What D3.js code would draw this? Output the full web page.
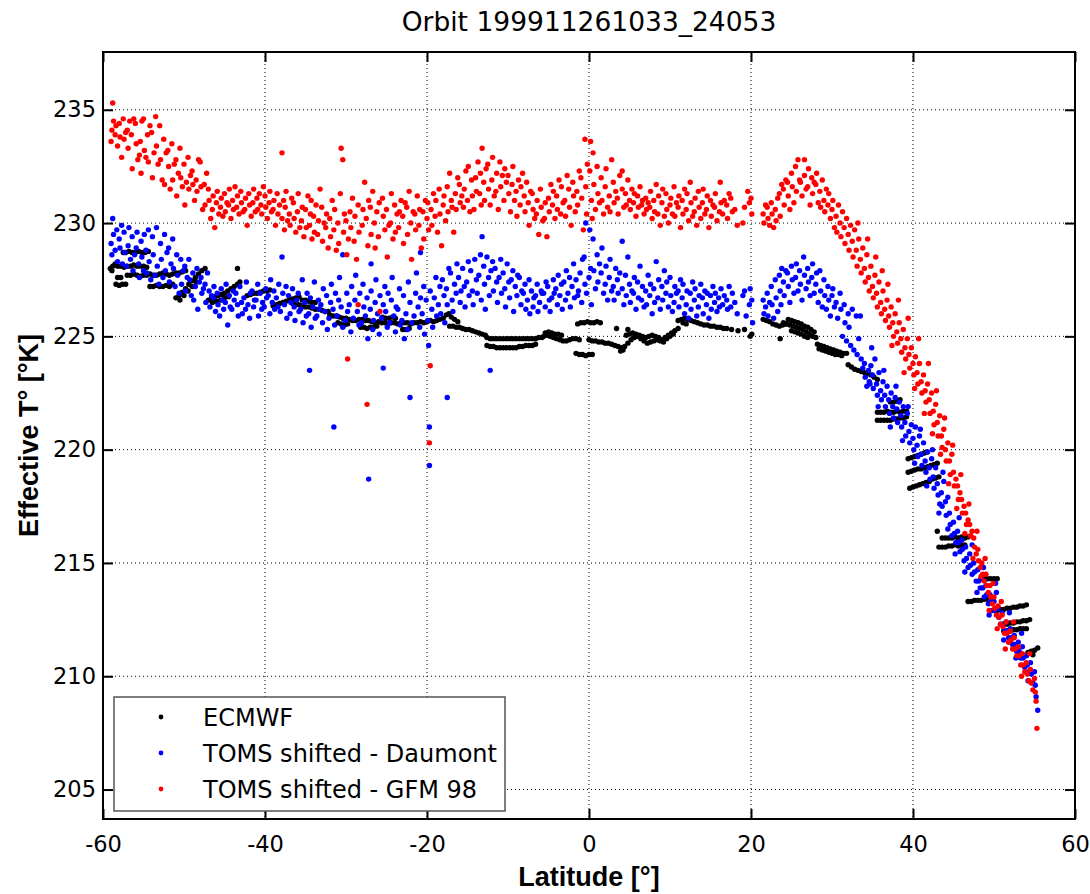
<!DOCTYPE html>
<html>
<head>
<meta charset="utf-8">
<script src="https://cdnjs.cloudflare.com/ajax/libs/d3/7.8.5/d3.min.js"></script>
<style>
    body { margin: 0; background: #fff; }
    svg { display: block; }
</style>
</head>
<body>
<svg id="chart" width="1090" height="894"></svg>
<script>
var title = 'Orbit 199911261033_24053'
var xLabel = 'Latitude [°]'
var yLabel = 'Effective T° [°K]'
var xTicks = [-60, -40, -20, 0, 20, 40, 60]
var yTicks = [205, 210, 215, 220, 225, 230, 235]
var seriesNames = ['ECMWF', 'TOMS shifted - Daumont', 'TOMS shifted - GFM 98']
var seriesColors = ['#000000', '#0000ff', '#ff0000']

// ECMWF: [latitude, T]
var ecmwf = [
    [-57.5,228.7],[-57.2,228.7],[-56.8,228.75],[-56.4,228.7],[-56.0,228.7],[-55.6,228.75],[-55.2,228.7],[-54.8,228.7],[-54.4,228.75],
    [-59.1,228.0],[-58.9,227.9],[-58.8,228.1],[-58.5,228.2],[-58.2,228.1],[-57.8,228.1],[-57.4,228.05],[-57.0,228.1],[-56.6,228.1],[-56.2,228.15],[-55.8,228.1],[-55.4,228.1],[-55.0,228.1],[-54.6,228.05],
    [-57.0,227.7],[-56.6,227.7],[-56.2,227.75],[-55.8,227.7],[-55.4,227.65],[-55.0,227.7],[-54.6,227.7],[-54.2,227.75],[-53.8,227.7],[-53.4,227.7],[-53.0,227.75],[-52.6,227.8],[-52.2,227.75],[-51.8,227.7],[-51.4,227.75],[-51.0,227.8],[-50.6,227.8],[-50.2,227.85],[-49.8,227.9],
    [-58.4,227.3],[-58.0,227.25],[-57.6,227.3],[-57.2,227.3],[-58.2,227.6],[-57.8,227.6],
    [-54.2,227.2],[-53.8,227.2],[-53.4,227.25],[-53.0,227.2],[-52.6,227.2],[-52.2,227.25],[-51.8,227.2],[-51.4,227.3],
    [-51.0,226.7],[-50.6,226.8],[-50.2,226.95],[-49.8,227.1],[-49.4,227.3],[-49.0,227.45],[-48.6,227.6],[-48.2,227.75],[-47.8,227.9],[-47.4,228.0],
    [-50.5,226.6],[-50.0,226.8],[-49.5,227.0],[-49.0,227.2],[-48.5,227.4],
    [-47.0,226.6],[-46.6,226.7],[-46.2,226.75],[-45.8,226.8],[-45.4,226.85],[-45.0,226.9],[-44.6,227.0],[-44.2,227.1],[-43.8,227.2],[-43.4,227.3],[-43.1,227.4],
    [-46.5,226.5],[-46.0,226.55],[-45.5,226.6],[-45.0,226.7],[-44.5,226.75],[-43.4,228.0],
    [-42.2,226.8],[-41.8,226.85],[-41.4,226.9],[-41.0,226.9],[-40.6,226.95],[-40.2,227.0],[-39.8,227.0],[-39.4,227.05],
    [-39.0,226.35],[-38.6,226.4],[-38.2,226.45],[-37.8,226.5],[-37.4,226.55],[-37.0,226.6],[-36.6,226.65],[-36.2,226.7],[-35.8,226.75],
    [-36.6,226.45],[-36.2,226.4],[-35.8,226.4],[-35.4,226.35],[-35.0,226.3],[-34.6,226.3],[-34.2,226.25],[-33.8,226.2],[-33.4,226.2],[-33.0,226.15],[-32.6,226.1],[-32.2,226.1],
    [-35.4,226.6],[-35.0,226.6],[-34.6,226.55],[-34.2,226.5],[-33.8,226.5],
    [-32.0,225.95],[-31.6,225.9],[-31.2,225.9],[-30.8,225.85],[-30.4,225.8],[-30.0,225.8],[-29.6,225.75],[-29.2,225.7],[-28.8,225.7],[-28.4,225.75],
    [-31.0,225.6],[-30.6,225.55],[-30.2,225.5],[-29.8,225.55],
    [-28.2,225.4],[-27.8,225.4],[-27.4,225.35],[-27.0,225.4],[-26.6,225.4],[-26.2,225.45],
    [-28.0,225.75],[-27.6,225.7],[-27.2,225.7],[-26.8,225.65],[-26.4,225.6],[-26.0,225.65],[-25.6,225.6],[-25.2,225.6],[-24.8,225.55],[-24.4,225.6],[-24.0,225.6],[-23.6,225.55],[-23.2,225.6],
    [-25.5,225.85],[-25.1,225.8],[-24.7,225.8],[-24.3,225.85],[-23.9,225.8],
    [-22.8,225.6],[-22.4,225.6],[-22.0,225.55],[-21.6,225.6],[-21.2,225.6],[-20.8,225.65],[-20.4,225.6],
    [-23.0,225.3],[-22.6,225.3],[-22.2,225.35],
    [-20.0,225.65],[-19.6,225.7],[-19.2,225.65],[-18.8,225.7],[-18.4,225.75],[-18.0,225.8],[-17.6,225.95],[-17.3,226.0],[-17.0,225.85],[-16.6,225.75],[-16.2,225.65],
    [-17.2,225.45],[-16.8,225.45],[-16.4,225.4],[-16.0,225.4],[-15.6,225.35],[-15.2,225.3],[-14.8,225.3],[-14.4,225.25],[-14.0,225.2],[-13.6,225.15],[-13.2,225.1],[-12.8,225.05],
    [-12.6,224.95],[-12.2,224.9],[-11.8,224.9],[-11.4,224.9],[-11.0,224.9],[-10.6,224.9],[-10.2,224.9],[-9.8,224.9],[-9.4,224.9],[-9.0,224.9],[-8.6,224.9],[-8.2,224.9],[-7.8,224.9],[-7.4,224.9],[-7.0,224.9],[-6.6,224.9],[-6.2,224.95],[-5.8,224.95],
    [-12.6,224.6],[-12.2,224.55],[-11.8,224.55],[-11.4,224.5],[-11.0,224.5],[-10.6,224.5],[-10.2,224.5],[-9.8,224.5],[-9.4,224.5],[-9.0,224.5],[-8.6,224.55],[-8.2,224.55],[-7.8,224.6],[-7.4,224.6],[-7.0,224.6],[-6.6,224.65],
    [-5.6,225.0],[-5.2,225.05],[-4.8,225.0],[-4.4,224.95],[-4.0,224.9],[-3.6,224.85],[-3.2,224.8],[-2.8,224.8],[-2.4,224.85],[-2.0,224.9],[-1.6,224.9],[-1.2,224.85],
    [-5.4,225.15],[-5.0,225.2],[-4.6,225.15],[-4.2,225.1],[-3.8,225.1],[-3.4,225.05],
    [-1.4,225.55],[-1.0,225.6],[-0.6,225.6],[-0.2,225.65],[0.2,225.6],[0.6,225.6],[1.0,225.65],[1.4,225.6],[3.4,225.35],[4.8,225.3],
    [-1.6,224.25],[-1.2,224.2],[-0.8,224.2],[-0.4,224.15],[0.0,224.2],[0.4,224.2],
    [0.0,224.85],[0.4,224.8],[0.8,224.8],[1.2,224.75],[1.6,224.75],[2.0,224.7],[2.4,224.7],[2.8,224.65],[3.2,224.6],[3.6,224.55],[4.0,224.5],[4.4,224.55],[4.8,224.7],[5.2,224.85],[5.6,224.95],[6.0,225.0],[6.4,224.9],[6.8,224.8],[7.2,224.7],[7.6,224.75],[8.0,224.8],[8.4,224.85],[8.8,224.8],
    [4.6,225.05],[5.0,225.1],[5.4,225.15],[5.8,225.1],[6.2,225.05],[6.6,225.0],[7.0,224.95],[7.4,225.0],[7.8,225.05],[8.2,225.0],[8.6,224.95],[3.9,224.35],[4.2,224.4],
    [9.0,224.85],[9.4,224.95],[9.8,225.05],[10.2,225.15],[10.6,225.25],[11.0,225.35],[9.2,224.75],[9.6,224.9],[10.0,225.0],[10.4,225.1],
    [11.0,225.7],[11.4,225.75],[11.8,225.8],[12.2,225.75],[12.6,225.7],[13.0,225.65],[13.4,225.6],[11.6,225.6],[12.0,225.55],
    [13.8,225.55],[14.2,225.5],[14.6,225.5],[15.0,225.45],[15.4,225.45],[15.8,225.4],[16.2,225.4],[16.6,225.35],[17.0,225.35],
    [17.6,225.3],[18.4,225.25],[19.2,225.3],[19.9,225.0],[20.1,225.1],
    [21.5,225.75],[21.9,225.7],[22.3,225.65],[22.7,225.55],[23.1,225.5],[23.5,225.45],[23.9,225.5],[24.3,225.55],[23.6,224.9],
    [24.0,225.6],[24.4,225.55],[24.8,225.5],[25.2,225.45],[25.6,225.4],[26.0,225.35],[26.4,225.3],[26.8,225.2],[27.2,225.1],[27.6,225.0],[28.0,224.95],
    [24.6,225.75],[25.0,225.7],[25.4,225.65],[25.8,225.6],[26.2,225.55],[26.6,225.45],[27.0,225.4],[27.4,225.3],[27.8,225.2],
    [25.0,225.25],[25.4,225.2],[25.8,225.15],[26.2,225.1],[26.6,225.0],[27.0,224.95],
    [28.2,224.65],[28.6,224.6],[29.0,224.55],[29.4,224.5],[29.8,224.45],[30.2,224.4],[30.6,224.35],[31.0,224.3],[31.4,224.25],[31.8,224.25],
    [28.4,224.45],[28.8,224.4],[29.2,224.35],[29.6,224.3],[30.0,224.25],[30.4,224.2],[30.8,224.2],[31.2,224.15],
    [32.0,223.75],[32.4,223.65],[32.8,223.55],[33.2,223.5],[33.6,223.45],[34.0,223.4],[34.4,223.35],[34.8,223.3],[35.2,223.2],[35.6,223.1],
    [35.6,221.65],[36.0,221.65],[36.4,221.65],[36.8,221.7],[37.2,221.65],[37.6,221.65],[38.0,221.7],[38.4,221.65],[38.8,221.7],[39.2,221.7],
    [35.6,221.3],[36.0,221.3],[36.4,221.3],[36.8,221.3],[37.2,221.3],[37.6,221.35],[38.0,221.35],[38.4,221.4],[38.8,221.4],[39.2,221.45],
    [37.2,222.1],[37.6,222.1],[38.0,222.15],[38.4,222.2],
    [39.4,219.6],[39.8,219.65],[40.2,219.7],[40.6,219.75],[41.0,219.8],[41.4,219.85],[41.7,219.9],
    [39.4,219.0],[39.8,219.05],[40.2,219.1],[40.6,219.15],[41.0,219.15],[41.4,219.2],[41.8,219.25],[42.2,219.3],[42.6,219.35],[43.0,219.4],
    [39.6,218.3],[40.0,218.35],[40.4,218.4],[40.8,218.45],[41.2,218.5],[41.6,218.55],[42.0,218.6],[42.4,218.7],[42.8,218.75],[43.2,218.8],
    [43.6,216.1],[44.0,216.1],[44.4,216.1],[44.8,216.1],[45.2,216.15],[45.6,216.1],[46.0,216.15],[46.4,216.1],[46.8,216.15],[43.0,216.4],
    [43.2,215.7],[43.6,215.7],[44.0,215.7],[44.4,215.75],[44.8,215.75],[45.2,215.8],[45.6,215.75],[46.0,215.8],[46.4,215.8],
    [48.4,214.3],[48.8,214.3],[49.2,214.3],[49.6,214.3],[50.0,214.3],[50.4,214.3],
    [46.8,213.3],[47.2,213.3],[47.6,213.35],[48.0,213.35],[48.4,213.35],[48.8,213.4],[49.2,213.4],
    [50.4,212.9],[50.8,212.95],[51.2,212.95],[51.6,213.0],[52.0,213.0],[52.4,213.05],[52.8,213.05],[53.2,213.1],[53.6,213.1],[54.0,213.15],
    [51.2,212.3],[51.6,212.3],[52.0,212.35],[52.4,212.35],[52.8,212.4],[53.2,212.4],[53.6,212.45],[54.0,212.45],[54.4,212.5],
    [51.2,212.0],[51.6,212.0],[52.0,212.0],[52.4,212.05],[52.8,212.05],[53.2,212.1],[53.6,212.1],[54.0,212.1],
    [54.2,211.05],[54.6,211.1],[55.0,211.15],[55.4,211.25],[54.8,210.95]
]

// TOMS shifted - Daumont: [latitude, T]
var daumont = [
    [-59.0,229.1],[-58.9,228.6],[-58.8,230.2],[-58.7,229.5],[-58.5,228.8],[-58.3,229.7],[-58.2,228.3],
    [-58.0,229.3],[-57.9,228.9],[-57.7,229.9],[-57.6,228.2],[-57.4,229.6],[-57.3,228.7],[-57.1,228.1],
    [-56.9,229.0],[-56.8,229.8],[-56.6,228.4],[-56.4,229.4],[-56.3,227.9],[-56.1,228.6],
    [-55.9,228.9],[-55.8,229.6],[-55.6,228.2],[-55.5,227.6],[-55.3,229.2],[-55.2,228.5],[-55.0,227.9],
    [-54.9,229.5],[-54.7,228.8],[-54.6,227.8],[-54.4,229.7],[-54.3,228.3],[-54.1,227.5],
    [-53.9,229.4],[-53.8,228.6],[-53.6,227.7],[-53.4,229.8],[-53.3,228.1],[-53.1,227.3],
    [-52.9,229.1],[-52.8,228.4],[-52.6,227.6],[-52.4,229.5],[-52.3,227.9],[-52.1,228.7],
    [-51.9,228.9],[-51.8,227.4],[-51.6,228.2],[-51.4,229.3],[-51.3,228.0],[-51.1,227.2],
    [-50.9,228.6],[-50.8,227.7],[-50.6,226.9],[-50.4,228.4],[-50.3,227.3],[-50.1,227.9],
    [-49.9,228.1],[-49.8,227.0],[-49.6,227.6],[-49.4,228.4],[-49.3,227.5],[-49.1,226.8],
    [-48.9,227.8],[-48.8,226.6],[-48.6,227.2],[-48.4,228.0],[-48.3,226.2],[-48.1,227.4],
    [-47.9,227.6],[-47.8,226.9],[-47.6,227.1],[-47.4,227.3],[-47.3,226.5],[-47.1,227.8],
    [-46.9,227.0],[-46.8,226.3],[-46.6,226.8],[-46.4,226.7],[-46.3,227.2],[-46.1,226.1],
    [-45.9,226.9],[-45.8,226.4],[-45.6,225.9],[-45.4,227.1],[-45.3,226.6],[-45.1,226.2],
    [-44.9,226.5],[-44.8,227.3],[-44.6,225.5],[-44.4,226.8],[-44.3,226.3],[-44.1,226.2],
    [-43.9,227.0],[-43.8,226.6],[-43.6,226.9],[-43.4,226.4],[-43.3,225.9],[-43.1,227.2],
    [-42.9,226.5],[-42.8,226.0],[-42.6,226.7],[-42.4,226.2],[-42.3,227.4],[-42.1,226.4],
    [-41.9,225.8],[-41.8,226.9],[-41.6,227.0],[-41.4,226.3],[-41.3,226.6],[-41.1,226.6],
    [-40.9,227.3],[-40.8,225.9],[-40.6,226.9],[-40.4,226.2],[-40.3,226.5],[-40.1,226.3],
    [-39.9,227.1],[-39.8,226.7],[-39.6,226.8],[-39.4,226.0],[-39.3,227.5],[-39.1,226.5],
    [-38.9,227.0],[-38.8,226.2],[-38.6,226.7],[-38.4,226.3],[-38.3,227.3],[-38.1,226.1],
    [-37.9,228.5],[-37.8,226.9],[-37.6,226.4],[-37.4,227.2],[-37.3,225.8],[-37.1,226.8],
    [-36.9,226.0],[-36.8,226.5],[-36.6,227.1],[-36.4,226.3],[-36.3,225.7],[-36.1,226.6],
    [-35.9,226.9],[-35.8,226.1],[-35.6,226.2],[-35.4,227.5],[-35.3,225.6],[-35.1,226.5],
    [-34.9,225.9],[-34.8,226.9],[-34.6,226.0],[-34.5,223.5],[-34.4,226.7],[-34.3,225.4],
    [-34.1,226.3],[-33.9,227.4],[-33.8,225.8],[-33.6,225.9],[-33.4,226.6],[-33.3,226.2],
    [-33.1,226.4],[-32.9,225.6],[-32.8,227.1],[-32.6,226.1],[-32.4,226.8],[-32.3,225.3],
    [-32.1,225.8],[-31.9,226.5],[-31.8,227.3],[-31.6,226.2],[-31.5,221.0],[-31.4,225.5],[-31.3,226.9],
    [-31.1,225.9],[-30.9,226.6],[-30.8,227.6],[-30.6,226.3],[-30.4,225.4],[-30.4,228.6],
    [-30.1,225.7],[-29.9,226.9],[-29.8,226.1],[-29.6,226.4],[-29.4,225.2],[-29.3,227.2],
    [-29.1,225.8],[-28.9,226.6],[-28.8,227.7],[-28.6,226.1],[-28.4,225.5],[-28.3,226.9],
    [-28.1,225.6],[-27.9,227.3],[-27.8,226.3],[-27.6,225.9],[-27.4,226.7],[-27.3,224.9],[-27.2,218.7],
    [-27.0,226.2],[-26.9,227.0],[-26.9,228.2],[-26.7,225.3],[-26.6,225.7],[-26.4,226.5],[-26.3,227.5],
    [-26.1,226.0],[-25.9,225.1],[-25.8,226.8],[-25.6,225.8],[-25.4,226.4],[-25.4,223.6],[-25.2,227.2],
    [-25.1,226.1],[-24.9,225.4],[-24.8,226.9],[-24.6,225.6],[-24.4,226.6],[-24.3,227.6],
    [-24.1,225.9],[-23.9,225.2],[-23.8,226.3],[-23.6,226.2],[-23.4,227.1],[-23.3,225.5],
    [-23.1,225.7],[-22.9,226.8],[-22.8,224.9],[-22.6,226.0],[-22.4,225.3],[-22.3,227.4],
    [-22.1,226.5],[-22.1,222.3],[-21.9,225.6],[-21.6,225.9],[-21.4,226.9],[-21.3,227.8],
    [-21.1,226.3],[-20.9,225.4],[-20.8,226.7],[-20.6,226.0],[-20.4,227.2],[-20.3,225.1],[-20.8,228.7],
    [-20.1,226.6],[-19.9,225.7],[-19.8,224.6],[-19.7,221.0],[-19.7,219.3],
    [-19.6,227.0],[-19.4,226.2],[-19.3,225.4],[-19.1,226.7],[-18.9,227.6],[-18.8,225.9],
    [-18.6,226.4],[-18.4,227.2],[-18.3,226.0],[-18.1,227.5],[-17.9,226.8],[-17.8,225.6],
    [-17.6,227.1],[-17.5,226.4],[-17.5,222.3],[-17.3,228.0],[-17.1,227.8],[-16.9,226.6],[-16.8,226.1],
    [-16.6,227.3],[-16.4,226.9],[-16.3,228.2],[-16.1,227.6],[-15.9,226.5],[-15.8,227.0],
    [-15.6,228.0],[-15.4,227.2],[-15.3,226.3],[-15.1,227.4],[-14.9,228.3],[-14.8,226.8],
    [-14.6,227.9],[-14.4,227.0],[-14.3,226.4],[-14.1,228.4],[-13.9,227.5],[-13.8,226.9],
    [-13.6,227.7],[-13.4,228.6],[-13.3,226.6],[-13.2,229.4],[-13.0,228.1],[-12.9,227.3],[-12.8,226.2],
    [-12.6,228.5],[-12.4,227.6],[-12.3,226.8],[-12.2,223.5],[-12.1,227.9],[-11.9,228.3],[-11.8,227.0],
    [-11.6,228.0],[-11.4,227.4],[-11.3,226.5],[-11.1,227.6],[-10.9,228.4],[-10.8,226.9],
    [-10.6,227.8],[-10.4,227.1],[-10.3,226.3],[-10.1,228.2],[-9.9,227.4],[-9.8,226.7],
    [-9.6,227.5],[-9.4,227.9],[-9.3,226.1],[-9.1,227.2],[-8.9,226.8],[-8.8,227.7],
    [-8.6,227.6],[-8.4,226.4],[-8.3,227.0],[-8.1,226.9],[-7.9,227.3],[-7.8,226.2],
    [-7.6,226.6],[-7.4,227.5],[-7.3,226.0],[-7.1,227.0],[-6.9,226.3],[-6.8,226.7],
    [-6.6,226.8],[-6.4,227.3],[-6.3,226.1],[-6.1,226.5],[-5.9,227.0],[-5.8,226.9],
    [-5.6,226.9],[-5.4,226.3],[-5.3,227.4],[-5.1,227.2],[-4.9,226.6],[-4.8,226.1],
    [-4.6,226.7],[-4.4,227.5],[-4.3,226.9],[-4.1,227.1],[-3.9,226.4],[-3.8,227.7],
    [-3.6,226.8],[-3.4,227.3],[-3.3,226.2],[-3.1,227.4],[-2.9,226.6],[-2.8,227.9],
    [-2.6,226.9],[-2.4,227.6],[-2.3,226.3],[-2.1,227.2],[-1.9,228.2],[-1.8,226.7],
    [-1.6,227.5],[-1.4,226.8],[-1.3,227.0],[-1.1,227.8],[-0.9,226.5],[-0.8,228.4],
    [-0.6,228.5],[-0.5,227.3],[-0.4,230.0],[-0.3,226.9],[0.1,229.7],[0.0,227.6],[0.2,228.0],[0.3,226.4],
    [0.5,229.3],[0.6,227.9],[0.8,227.1],[1.0,228.6],[1.1,227.4],[1.3,228.2],
    [1.5,227.8],[1.6,228.9],[1.8,226.9],[2.0,227.3],[2.1,228.1],[2.3,226.6],
    [2.5,227.6],[2.6,228.4],[2.8,227.0],[3.0,227.2],[3.1,226.6],[3.3,228.0],
    [3.5,227.5],[3.6,226.9],[3.8,227.8],[4.1,229.2],[4.1,227.1],[4.3,226.4],
    [4.5,227.7],[4.6,226.8],[4.8,228.5],[5.0,227.3],[5.1,226.5],[5.3,227.0],
    [5.5,226.9],[5.6,227.6],[5.8,226.2],[6.0,227.4],[6.1,226.7],[6.3,228.1],
    [6.5,226.6],[6.6,227.2],[6.8,226.3],[7.0,227.0],[7.1,226.4],[7.3,227.7],
    [7.5,226.8],[7.6,227.3],[7.8,226.0],[8.0,227.1],[8.1,226.5],[8.3,228.3],
    [8.5,226.7],[8.6,227.5],[8.8,226.2],[9.0,227.2],[9.1,226.6],[9.3,227.9],
    [9.5,226.9],[9.6,227.4],[9.8,226.3],[10.0,227.6],[10.1,226.8],[10.3,226.1],
    [10.5,226.5],[10.6,227.2],[10.8,226.9],[11.0,227.0],[11.1,226.3],[11.3,227.5],
    [11.5,226.7],[11.6,227.3],[11.8,226.0],[12.0,226.4],[12.1,227.0],[12.3,225.8],
    [12.5,226.9],[12.6,226.2],[12.8,227.4],[13.0,226.6],[13.1,227.1],[13.3,225.9],
    [13.5,226.3],[13.6,226.8],[13.8,227.3],[14.0,226.7],[14.1,226.0],[14.3,227.0],
    [14.5,226.4],[14.6,226.9],[14.8,225.8],[15.0,226.8],[15.1,226.2],[15.3,227.2],
    [15.5,226.5],[15.6,226.9],[15.8,226.1],[16.0,226.7],[16.1,226.3],[16.3,227.1],
    [16.5,226.4],[16.7,226.8],[17.0,226.6],[17.1,226.2],[17.3,227.2],[17.5,226.3],[17.7,226.9],
    [18.0,226.5],[18.3,226.0],[19.0,226.8],[19.2,227.0],[19.4,225.9],[19.8,226.4],[19.9,227.1],[20.1,226.6],[20.2,225.6],
    [21.5,226.6],[21.6,226.0],[21.8,226.3],[22.0,226.9],[22.1,225.9],[22.3,226.5],
    [22.5,227.2],[22.6,226.4],[22.8,225.8],[23.0,227.5],[23.1,226.7],[23.3,226.1],
    [23.5,227.7],[23.6,227.0],[23.7,226.4],[23.8,228.0],[24.0,227.4],[24.1,226.8],[24.3,227.9],
    [24.5,227.8],[24.6,227.2],[24.8,226.5],[25.0,228.1],[25.1,227.5],[25.3,226.9],
    [25.5,227.6],[25.6,228.2],[25.8,227.0],[26.0,227.9],[26.1,227.3],[26.3,226.6],
    [26.5,228.5],[26.6,227.7],[26.8,227.1],[27.0,228.0],[27.1,227.4],[27.3,226.8],
    [27.5,227.6],[27.6,228.2],[27.8,226.9],[28.0,227.3],[28.1,227.8],[28.3,226.5],
    [28.5,227.9],[28.6,227.0],[28.8,226.3],[29.0,227.5],[29.1,226.8],[29.3,226.2],
    [29.5,227.2],[29.6,226.6],[29.8,225.9],[30.0,226.8],[30.1,227.1],[30.3,226.3],
    [30.5,226.5],[30.7,225.8],[31.0,226.9],[31.1,226.2],[31.3,225.0],
    [31.5,226.4],[31.6,225.6],[31.8,224.8],[32.0,226.0],[32.1,225.4],[32.3,224.6],
    [32.5,226.2],[32.7,224.4],[33.0,225.9],[33.1,224.2],[33.3,224.9],
    [33.5,225.9],[33.6,224.0],[33.8,223.6],[34.0,223.8],[34.1,223.2],[34.3,222.8],
    [34.5,223.5],[34.6,223.0],[34.7,222.9],[34.8,223.7],[35.0,223.3],[35.1,222.7],[35.3,224.0],
    [35.5,222.9],[35.6,222.4],[35.8,223.4],[36.0,222.6],[36.1,222.2],[36.3,223.0],
    [36.5,222.4],[36.6,221.9],[36.8,222.8],[37.0,222.2],[37.1,221.6],[37.3,222.5],
    [37.5,221.9],[37.6,221.4],[37.8,222.3],[38.0,221.8],[38.1,221.2],[38.3,222.1],
    [38.5,221.5],[38.6,221.0],[38.8,221.9],[39.0,221.2],[39.1,220.6],[39.3,221.6],
    [39.5,220.8],[39.6,220.3],[39.8,221.1],[40.0,220.5],[40.1,220.0],[40.3,221.0],
    [40.5,220.2],[40.6,219.7],[40.8,220.6],[41.0,219.8],[41.1,219.3],[41.3,220.3],
    [41.5,219.5],[41.6,219.0],[41.8,219.9],[42.0,219.2],[42.1,218.7],[42.3,219.6],
    [42.5,218.8],[42.6,218.3],[42.8,219.2],[43.0,218.5],[43.1,218.0],[43.3,217.6],
    [43.5,218.1],[43.6,217.5],[43.8,218.6],[44.0,217.7],[44.1,217.1],[44.3,216.5],
    [44.5,217.2],[44.6,216.7],[44.8,216.2],[45.0,216.8],[45.1,216.3],[45.3,215.9],
    [45.5,216.4],[45.6,215.9],[45.8,215.5],[46.0,216.0],[46.1,215.6],[46.3,215.1],
    [46.5,215.7],[46.6,215.2],[46.8,214.8],[47.0,215.4],[47.1,214.9],[47.3,214.5],
    [47.5,215.0],[47.6,214.6],[47.8,214.2],[48.0,214.7],[48.1,214.2],[48.3,213.9],
    [48.5,214.3],[48.6,213.9],[48.8,213.5],[49.0,214.0],[49.1,213.6],[49.3,213.2],
    [49.5,213.6],[49.6,213.3],[49.8,212.9],[50.0,213.3],[50.1,212.9],[50.3,213.7],
    [50.5,213.0],[50.6,212.6],[50.8,212.3],[51.0,212.8],[51.1,212.3],[51.3,212.0],
    [51.5,212.4],[51.6,212.0],[51.8,211.7],[52.0,212.1],[52.1,211.7],[52.3,211.4],
    [52.5,211.8],[52.6,211.4],[52.8,211.1],[53.0,211.5],[53.1,211.1],[53.3,210.8],
    [53.5,211.3],[53.6,210.8],[53.8,210.4],[54.0,210.9],[54.1,210.5],[54.3,210.2],
    [54.5,210.6],[54.6,210.1],[54.8,209.7],[55.0,210.2],[55.1,209.6],[55.2,209.1],[55.4,208.5],
    [34.9,224.5],[35.7,221.9],[36.4,223.5],[37.2,221.0],[37.9,222.8],[38.7,220.4],[39.4,221.9],
    [40.2,219.4],[40.9,220.9],[41.7,218.4],[42.4,220.0],[43.2,217.2],[43.7,219.0],[44.3,217.9],
    [45.2,215.4],[45.7,217.0],[46.4,214.6],[47.3,215.8],[47.9,213.7],[48.7,214.8],[49.4,212.7],
    [50.2,214.1],[51.2,211.6],[51.9,212.8],[52.7,210.8],[53.4,211.9],[54.2,209.8]
]

// TOMS shifted - GFM 98: [latitude, T]
var gfm98 = [
    [-59.0,233.6],[-58.9,234.1],[-58.8,235.3],[-58.7,234.5],[-58.5,233.9],[-58.4,234.3],[-58.2,233.4],
    [-58.0,234.4],[-57.9,233.8],[-57.7,232.9],[-57.5,234.6],[-57.4,233.7],[-57.2,234.0],
    [-57.0,234.1],[-56.9,233.3],[-56.7,234.5],[-56.5,233.9],[-56.4,232.4],[-56.2,234.6],
    [-56.0,234.4],[-55.9,233.5],[-55.7,232.8],[-55.5,233.0],[-55.4,233.6],[-55.3,232.2],[-55.2,234.5],
    [-55.0,234.6],[-54.9,233.2],[-54.7,232.9],[-54.5,233.9],[-54.4,232.7],[-54.2,234.3],
    [-54.0,234.0],[-53.9,232.0],[-53.7,233.1],[-53.5,234.7],[-53.4,233.4],[-53.2,232.6],
    [-53.0,234.3],[-52.9,232.8],[-52.7,231.9],[-52.5,233.7],[-52.4,231.7],[-52.2,233.1],
    [-52.0,233.2],[-51.9,232.5],[-51.7,231.5],[-51.5,233.5],[-51.4,231.9],[-51.2,232.6],
    [-51.0,232.8],[-50.9,231.2],[-50.7,232.2],[-50.5,233.3],[-50.4,232.0],[-50.2,231.6],
    [-50.0,232.6],[-49.9,230.8],[-49.7,231.8],[-49.5,232.9],[-49.4,231.5],[-49.2,232.1],
    [-49.0,232.3],[-48.9,231.7],[-48.7,231.0],[-48.5,231.9],[-48.4,231.4],[-48.2,232.8],
    [-48.0,232.7],[-47.9,231.6],[-47.7,230.6],[-47.5,231.7],[-47.4,230.8],[-47.2,232.2],
    [-47.0,231.5],[-46.9,231.0],[-46.7,230.2],[-46.5,230.6],[-46.4,231.2],[-46.2,229.8],
    [-46.0,230.9],[-45.9,231.4],[-45.7,230.4],[-45.5,230.7],[-45.4,231.1],[-45.2,230.3],
    [-45.0,231.3],[-44.9,230.5],[-44.7,230.9],[-44.5,230.8],[-44.4,231.5],[-44.2,230.2],
    [-44.0,231.0],[-43.9,230.6],[-43.7,231.6],[-43.5,230.7],[-43.4,231.2],[-43.2,230.4],
    [-43.0,231.4],[-42.9,230.9],[-42.7,230.5],[-42.5,230.6],[-42.4,231.1],[-42.2,229.9],
    [-42.0,231.3],[-41.9,230.8],[-41.7,230.3],[-41.5,230.9],[-41.4,231.5],[-41.2,230.5],
    [-41.0,231.1],[-40.9,230.6],[-40.7,231.3],[-40.5,230.8],[-40.4,230.4],[-40.2,231.6],
    [-40.0,231.2],[-39.9,230.7],[-39.7,230.2],[-39.5,230.9],[-39.4,231.4],[-39.2,230.5],
    [-39.0,230.6],[-38.9,231.0],[-38.7,229.9],[-38.5,231.3],[-38.4,230.4],[-38.2,230.8],
    [-37.9,233.1],[-37.9,230.2],[-37.7,231.0],[-37.6,229.7],[-37.5,230.7],[-37.4,231.4],[-37.2,230.1],
    [-37.0,230.4],[-36.9,229.9],[-36.7,231.1],[-36.5,230.9],[-36.4,230.2],[-36.2,229.6],
    [-36.0,230.5],[-35.9,231.3],[-35.7,229.8],[-35.5,230.1],[-35.4,230.7],[-35.2,229.4],
    [-35.0,230.6],[-34.9,229.8],[-34.7,231.2],[-34.5,229.9],[-34.4,230.4],[-34.3,231.0],[-34.2,229.3],
    [-34.0,230.3],[-33.9,229.6],[-33.7,230.8],[-33.5,229.5],[-33.4,230.1],[-33.2,231.5],
    [-33.0,230.7],[-32.9,229.2],[-32.7,230.0],[-32.5,229.8],[-32.4,230.4],[-32.2,228.9],
    [-32.0,230.2],[-31.9,229.4],[-31.7,231.0],[-31.5,229.7],[-31.4,230.6],[-31.2,228.8],
    [-31.0,230.0],[-30.9,229.1],[-30.7,231.3],[-30.6,233.3],[-30.4,232.8],[-30.3,229.6],[-30.2,230.4],
    [-30.0,230.1],[-29.9,228.6],[-29.8,224.0],[-29.7,229.3],[-29.5,230.5],[-29.4,229.8],[-29.2,231.1],
    [-29.0,229.2],[-28.9,230.3],[-28.7,228.4],[-28.5,230.8],[-28.4,229.6],[-28.5,226.4],
    [-28.0,229.9],[-27.9,230.6],[-27.7,231.8],[-27.5,230.2],[-27.4,222.0],[-27.3,229.0],[-27.2,231.0],
    [-27.0,230.7],[-26.9,229.5],[-26.7,231.4],[-26.5,230.0],[-26.4,228.9],[-26.2,230.5],
    [-26.0,229.4],[-25.9,230.9],[-25.8,226.1],[-25.5,231.1],[-25.4,230.3],[-25.2,229.7],
    [-25.0,230.6],[-24.9,228.5],[-24.7,229.9],[-24.5,230.0],[-24.4,231.3],[-24.2,229.3],
    [-24.0,230.8],[-23.9,229.6],[-23.7,230.4],[-23.5,229.8],[-23.4,230.5],[-23.2,231.0],
    [-23.0,230.3],[-22.9,229.1],[-22.7,230.9],[-22.5,230.7],[-22.4,229.5],[-22.2,231.4],
    [-22.0,230.0],[-21.9,228.4],[-21.7,230.5],[-21.5,230.4],[-21.4,229.7],[-21.2,231.2],
    [-21.0,229.9],[-20.9,230.6],[-20.7,228.9],[-20.5,230.5],[-20.4,229.3],[-20.2,231.0],
    [-20.0,230.2],[-19.9,230.9],[-19.8,229.7],[-19.6,223.7],[-19.7,220.3],
    [-19.5,230.6],[-19.4,229.9],[-19.2,231.3],[-19.0,230.3],[-18.9,231.0],[-18.7,229.6],
    [-18.5,231.5],[-18.4,230.4],[-18.2,229.0],[-18.0,230.8],[-17.9,231.2],[-17.7,230.1],
    [-17.5,231.6],[-17.4,230.5],[-17.2,232.2],[-17.0,231.0],[-16.9,230.7],[-16.7,229.6],
    [-16.5,231.3],[-16.4,230.6],[-16.2,232.0],[-16.0,231.7],[-15.9,230.9],[-15.7,231.2],
    [-15.5,230.7],[-15.4,231.5],[-15.2,232.3],[-15.0,231.0],[-14.9,232.5],[-14.7,230.5],
    [-14.5,231.9],[-14.4,231.2],[-14.2,230.6],[-14.0,232.0],[-13.9,231.4],[-13.7,232.7],
    [-13.5,231.3],[-13.4,232.2],[-13.3,230.8],[-13.2,233.3],[-13.0,231.8],[-12.9,231.0],[-12.7,232.4],
    [-12.5,232.6],[-12.4,231.5],[-12.2,230.8],[-12.0,231.9],[-11.9,232.9],[-11.7,231.2],
    [-11.5,231.4],[-11.4,232.2],[-11.2,230.6],[-11.0,232.7],[-10.9,231.6],[-10.7,232.1],
    [-10.5,231.0],[-10.4,232.4],[-10.2,231.8],[-10.0,232.1],[-9.9,231.3],[-9.7,230.5],
    [-9.5,231.7],[-9.4,232.5],[-9.2,231.0],[-9.0,231.4],[-8.9,230.3],[-8.7,231.9],
    [-8.5,230.8],[-8.4,231.6],[-8.2,232.2],[-8.0,231.2],[-7.9,230.5],[-7.7,231.8],
    [-7.5,230.9],[-7.4,229.9],[-7.2,231.4],[-7.0,231.3],[-6.9,230.6],[-6.7,230.2],
    [-6.5,230.4],[-6.4,231.0],[-6.2,229.5],[-6.0,231.5],[-5.9,230.7],[-5.7,230.1],
    [-5.5,230.2],[-5.4,230.9],[-5.2,229.4],[-5.0,231.1],[-4.9,230.5],[-4.7,231.7],
    [-4.5,230.8],[-4.4,231.4],[-4.2,230.2],[-4.0,231.2],[-3.9,230.6],[-3.7,231.9],
    [-3.5,230.4],[-3.4,231.6],[-3.2,230.9],[-3.0,231.0],[-2.9,230.3],[-2.7,232.1],
    [-2.5,231.5],[-2.4,230.7],[-2.2,229.9],[-2.0,231.8],[-1.9,231.2],[-1.7,230.5],
    [-1.5,231.4],[-1.4,230.8],[-1.2,232.3],[-1.0,232.0],[-0.9,231.1],[-0.7,229.7],
    [-0.5,233.7],[-0.4,231.6],[-0.3,230.4],[-0.2,232.6],[0.2,233.6],[0.1,232.3],[0.3,231.0],[0.4,230.2],
    [0.5,233.1],[0.6,231.7],[0.8,230.6],[1.0,232.5],[1.1,231.3],[1.3,230.9],
    [1.5,232.0],[1.6,231.0],[1.8,230.4],[2.0,231.6],[2.1,232.4],[2.3,230.7],
    [2.5,231.2],[2.6,230.5],[2.8,232.8],[3.0,231.8],[3.1,230.9],[3.3,231.4],
    [3.5,231.1],[3.6,230.4],[3.8,232.1],[4.1,232.3],[4.1,231.5],[4.3,230.7],
    [4.5,231.3],[4.6,230.8],[4.8,231.9],[5.0,231.0],[5.1,230.6],[5.3,231.5],
    [5.5,230.9],[5.6,231.3],[5.8,230.3],[6.0,231.2],[6.1,230.7],[6.3,231.6],
    [6.5,230.8],[6.6,231.0],[6.8,230.4],[7.0,231.1],[7.1,230.6],[7.3,230.9],
    [7.5,230.7],[7.6,231.4],[7.8,230.2],[8.0,231.0],[8.1,230.5],[8.3,231.7],
    [8.5,230.4],[8.6,231.2],[8.8,229.9],[9.0,230.9],[9.1,231.5],[9.3,230.3],
    [9.5,231.3],[9.6,230.6],[9.8,230.0],[10.0,230.8],[10.1,231.1],[10.3,230.4],
    [10.5,231.6],[10.6,230.3],[10.8,230.9],[11.0,230.7],[11.1,231.2],[11.3,229.8],
    [11.5,231.0],[11.6,230.4],[11.8,231.5],[12.0,230.6],[12.1,231.3],[12.3,230.1],
    [12.5,231.8],[12.6,230.9],[12.8,230.3],[13.0,230.5],[13.1,231.1],[13.3,229.9],
    [13.5,231.4],[13.6,230.7],[13.8,230.2],[14.0,230.9],[14.1,231.5],[14.3,230.4],
    [14.5,230.6],[14.6,231.2],[14.8,229.8],[15.0,231.0],[15.1,230.3],[15.3,230.8],
    [15.5,230.7],[15.6,231.3],[15.8,230.1],[16.2,231.8],[16.1,230.5],[16.3,230.9],
    [16.5,230.4],[16.7,231.0],[17.0,230.8],[17.1,230.2],[17.3,231.3],[17.5,231.1],[17.7,230.5],
    [18.0,230.6],[18.3,229.9],[19.0,230.0],[19.2,230.7],[19.6,231.4],[19.8,230.9],[20.0,231.1],[20.1,230.4],
    [21.5,230.4],[21.6,230.0],[21.8,230.8],[22.0,230.7],[22.1,230.2],[22.3,229.9],
    [22.5,230.9],[22.6,230.4],[22.8,229.8],[23.0,230.6],[23.1,230.1],[23.3,231.1],
    [23.5,231.3],[23.6,230.3],[23.8,231.7],[24.0,231.5],[24.1,230.8],[24.3,231.9],
    [24.5,231.8],[24.6,231.2],[24.8,230.6],[25.0,232.2],[25.1,231.6],[25.3,230.9],
    [25.5,232.5],[25.6,231.4],[25.8,232.8],[26.0,231.9],[26.1,231.8],[26.3,231.2],
    [26.6,232.8],[26.6,232.1],[26.8,231.5],[27.0,231.6],[27.1,232.4],[27.3,230.8],
    [27.5,232.0],[27.6,231.3],[27.8,231.8],[28.0,231.7],[28.1,232.2],[28.3,230.9],
    [28.5,231.4],[28.6,230.7],[28.8,231.9],[29.0,231.0],[29.1,230.5],[29.3,231.5],
    [29.5,230.8],[29.6,231.3],[29.8,230.2],[30.0,230.6],[30.1,231.0],[30.3,229.8],
    [30.5,230.3],[30.6,229.6],[30.8,230.8],[31.0,230.0],[31.1,229.4],[31.3,230.5],
    [31.5,229.8],[31.6,229.1],[31.8,230.2],[32.0,229.5],[32.1,228.8],[32.3,229.9],
    [32.5,229.2],[32.6,228.5],[32.8,229.7],[33.0,228.8],[33.1,228.1],[33.3,229.3],
    [33.5,228.4],[33.6,227.8],[33.8,228.9],[34.0,228.0],[34.1,227.4],[34.3,228.6],
    [34.5,227.6],[34.6,227.0],[34.8,228.1],[35.0,227.2],[35.1,226.7],[35.3,227.7],
    [35.5,226.9],[35.6,226.3],[35.8,227.4],[36.0,226.5],[36.1,226.0],[36.3,227.0],
    [36.5,226.2],[36.6,225.7],[36.8,226.6],[37.0,225.9],[37.1,225.4],[37.3,226.3],
    [37.5,225.6],[37.6,225.0],[37.8,226.0],[38.0,225.2],[38.1,224.7],[38.3,225.6],
    [38.5,224.9],[38.6,224.3],[38.8,225.3],[39.0,224.5],[39.1,224.0],[39.3,224.9],
    [39.5,224.2],[39.6,223.6],[39.8,224.5],[40.0,223.8],[40.1,223.3],[40.3,224.1],
    [40.5,223.4],[40.6,222.9],[40.8,223.8],[41.0,223.0],[41.1,222.5],[41.3,223.3],
    [41.5,222.6],[41.6,222.1],[41.8,222.9],[42.0,222.2],[42.1,221.6],[42.3,222.5],
    [42.5,221.7],[42.6,221.1],[42.8,222.0],[43.0,221.2],[43.1,220.6],[43.3,221.5],
    [43.5,220.6],[43.6,220.1],[43.8,220.9],[44.0,220.0],[44.1,219.5],[44.3,220.3],
    [44.5,219.5],[44.6,218.9],[44.8,219.8],[45.0,219.0],[45.1,218.4],[45.3,218.7],
    [45.5,218.4],[45.6,217.8],[45.8,218.1],[46.0,217.8],[46.1,217.2],[46.3,217.5],
    [46.5,217.2],[46.6,216.7],[46.8,216.9],[47.0,216.7],[47.1,216.2],[47.3,216.4],
    [47.5,216.1],[47.6,215.7],[47.8,215.4],[48.0,215.6],[48.1,215.1],[48.3,214.8],
    [48.5,215.0],[48.6,214.5],[48.8,214.2],[49.0,214.5],[49.1,214.0],[49.3,213.7],
    [49.5,214.0],[49.6,213.5],[49.8,213.2],[50.0,213.5],[50.1,213.0],[50.3,212.7],
    [50.5,213.1],[50.6,212.6],[50.8,212.3],[51.0,212.7],[51.1,212.2],[51.3,211.9],
    [51.5,212.4],[51.6,211.9],[51.8,211.5],[52.0,212.0],[52.1,211.6],[52.3,211.2],
    [52.5,211.7],[52.6,211.2],[52.8,210.9],[53.0,211.3],[53.1,210.9],[53.3,210.5],
    [53.5,211.0],[53.6,210.5],[53.8,210.2],[54.0,210.6],[54.1,210.1],[54.3,209.8],
    [54.5,210.3],[54.6,209.7],[54.8,209.4],[55.0,209.9],[55.1,209.3],[55.2,208.9],[55.3,207.7],
    [33.2,230.0],[34.4,229.3],[35.4,228.5],[36.2,227.9],[36.9,227.3],[37.4,224.6],[38.2,226.6],
    [38.9,223.4],[39.4,225.8],[40.2,222.7],[40.7,224.9],[41.4,221.6],[41.9,223.8],[42.4,220.7],
    [42.9,222.6],[43.4,219.8],[43.9,221.4],[44.4,218.5],[44.9,220.2],[45.4,217.4],[45.9,218.9],
    [46.4,216.3],[46.9,217.6],[47.4,215.2],[47.9,216.4],[48.4,214.4],[48.9,215.2],[49.4,212.9],
    [49.9,214.1],[50.4,212.1],[50.9,213.3],[51.4,211.2],[52.4,212.4],[53.4,210.0],[54.4,211.0]
]

var series = [ecmwf, daumont, gfm98]

var svg = d3.select('#chart')
var margin = { left: 103, top: 52, right: 15, bottom: 75 }
var width = 1090 - margin.left - margin.right
var height = 894 - margin.top - margin.bottom

var x = d3.scaleLinear().domain([-60, 60]).range([0, width])
var y = d3.scaleLinear().domain([203.7, 237.55]).range([height, 0])

var g = svg.append('g')
    .attr('transform', 'translate(' + margin.left + ',' + margin.top + ')')

// dotted grid
g.append('g').selectAll('line')
    .data(xTicks.slice(1, -1))
    .enter().append('line')
    .attr('x1', function(d) { return x(d) })
    .attr('x2', function(d) { return x(d) })
    .attr('y1', 0)
    .attr('y2', height)
    .attr('stroke', '#000')
    .attr('stroke-width', 1)
    .attr('stroke-dasharray', '1,3')
g.append('g').selectAll('line')
    .data(yTicks)
    .enter().append('line')
    .attr('x1', 0)
    .attr('x2', width)
    .attr('y1', function(d) { return y(d) })
    .attr('y2', function(d) { return y(d) })
    .attr('stroke', '#000')
    .attr('stroke-width', 1)
    .attr('stroke-dasharray', '1,3')

// points, in legend order
series.forEach(function(pts, i) {
    g.append('g').selectAll('circle')
        .data(pts)
        .enter().append('circle')
        .attr('cx', function(d) { return x(d[0]) })
        .attr('cy', function(d) { return y(d[1]) })
        .attr('r', 2.7)
        .attr('fill', seriesColors[i])
})

// axes, ticks pointing inward, plain hyphen for negatives
var fontAxis = '"DejaVu Sans", sans-serif'
var plain = function(d) { return String(d) }
var xAxis = g.append('g')
    .attr('transform', 'translate(0,' + height + ')')
    .call(d3.axisBottom(x).tickValues(xTicks).tickFormat(plain).tickSizeInner(-10).tickSizeOuter(0).tickPadding(17))
var yAxis = g.append('g')
    .call(d3.axisLeft(y).tickValues(yTicks).tickFormat(plain).tickSizeInner(-10).tickSizeOuter(0).tickPadding(7))
var topAxis = g.append('g')
    .call(d3.axisTop(x).tickValues(xTicks).tickSizeInner(-10).tickSizeOuter(0).tickFormat(''))
var rightAxis = g.append('g')
    .attr('transform', 'translate(' + width + ',0)')
    .call(d3.axisRight(y).tickValues(yTicks).tickSizeInner(-10).tickSizeOuter(0).tickFormat(''))

;[xAxis, yAxis, topAxis, rightAxis].forEach(function(a) {
    a.select('.domain').remove()
    a.selectAll('.tick line').attr('stroke', '#000').attr('stroke-width', 2)
    a.selectAll('text')
        .attr('fill', '#000')
        .style('font-family', fontAxis)
        .style('font-size', '22.5px')
})

g.append('rect')
    .attr('width', width)
    .attr('height', height)
    .attr('fill', 'none')
    .attr('stroke', '#000')
    .attr('stroke-width', 2)

// title and axis labels
svg.append('text')
    .attr('x', margin.left + width / 2)
    .attr('y', 31)
    .attr('text-anchor', 'middle')
    .style('font-family', fontAxis)
    .style('font-size', '26.5px')
    .text(title)

svg.append('text')
    .attr('x', margin.left + width / 2)
    .attr('y', 886)
    .attr('text-anchor', 'middle')
    .style('font-family', '"Liberation Sans", Arial, sans-serif')
    .style('font-weight', 'bold')
    .style('font-size', '27px')
    .text(xLabel)

svg.append('text')
    .attr('transform', 'translate(38,' + (margin.top + height / 2) + ') rotate(-90)')
    .attr('text-anchor', 'middle')
    .style('font-family', '"Liberation Sans", Arial, sans-serif')
    .style('font-weight', 'bold')
    .style('font-size', '27px')
    .text(yLabel)

// legend
var legend = svg.append('g').attr('transform', 'translate(114,697)')
legend.append('rect')
    .attr('width', 391)
    .attr('height', 114)
    .attr('fill', '#fff')
    .attr('stroke', '#555')
    .attr('stroke-width', 1.5)

var rows = legend.selectAll('g.row')
    .data(seriesNames)
    .enter().append('g')
    .attr('class', 'row')
    .attr('transform', function(d, i) { return 'translate(0,' + (20 + i * 36) + ')' })
rows.append('circle')
    .attr('cx', 47)
    .attr('r', 2.4)
    .attr('fill', function(d, i) { return seriesColors[i] })
rows.append('text')
    .attr('x', 89)
    .attr('dy', '0.36em')
    .style('font-family', fontAxis)
    .style('font-size', '24px')
    .text(function(d) { return d })
</script>
</body>
</html>
